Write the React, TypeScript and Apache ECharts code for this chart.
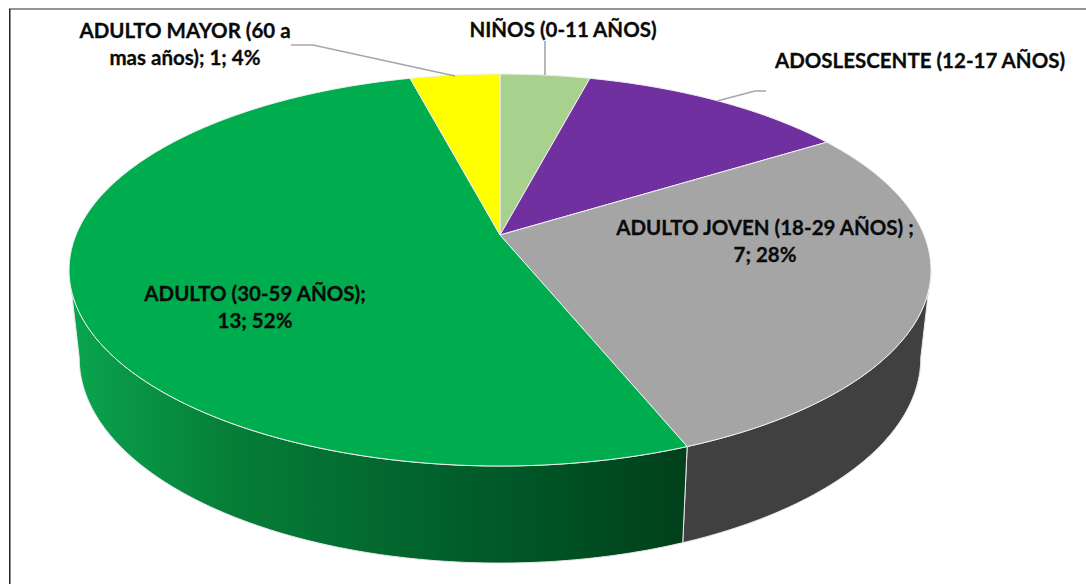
import React, { useEffect, useRef } from "react";
import * as echarts from "echarts";

const categories = [
  "NIÑOS (0-11 AÑOS)",
  "ADOSLESCENTE (12-17 AÑOS)",
  "ADULTO JOVEN (18-29 AÑOS)",
  "ADULTO (30-59 AÑOS)",
  "ADULTO MAYOR (60 a mas años)",
];
const values = [1, 3, 7, 13, 1];
const labelTexts = [
  "NIÑOS (0-11 AÑOS)",
  "ADOSLESCENTE (12-17 AÑOS)",
  "ADULTO JOVEN (18-29 AÑOS) ;\n7; 28%",
  "ADULTO (30-59 AÑOS);\n13; 52%",
  "ADULTO MAYOR (60 a\nmas años); 1; 4%",
];
const topColors = ["#A9D18E", "#7030A0", "#A5A5A5", "#00AD4E", "#FFFF00"];
const labelCenters = [
  [563, 29],
  [920, 60],
  [765, 240.5],
  [255, 306.5],
  [185, 43],
];

// Perspective of the two rims of the cylinder
const K = 0.1786;
const topRim = { cx: 500, cy: 235, bx: 424, ay: 189.75 };
const bottomRim = { cx: 500, cy: 321.4, bx: 414, ay: 198.5 };

// Angles at which the cylinder's side turns away from the viewer
const WALL_FROM = (Math.acos(-K) * 180) / Math.PI;
const WALL_TO = 360 - WALL_FROM;

function project(rim: typeof topRim, deg: number): [number, number] {
  const a = (deg * Math.PI) / 180;
  const x = Math.sin(a);
  const y = Math.cos(a);
  const w = 1 + K * y;
  return [rim.cx + (rim.bx * x) / w, rim.cy - (rim.ay * y) / w];
}

function sample(rim: typeof topRim, from: number, to: number): [number, number][] {
  const n = Math.max(2, Math.ceil(Math.abs(to - from) / 0.5));
  const pts: [number, number][] = [];
  for (let i = 0; i <= n; i++) pts.push(project(rim, from + ((to - from) * i) / n));
  return pts;
}

const total = values.reduce((a, b) => a + b, 0);
const starts = values.map((_, i) => values.slice(0, i).reduce((a, b) => a + b, 0));
const seriesData = values.map((v, i) => ({ name: categories[i], value: [starts[i], v] }));

const wallFill = (i: number) =>
  i === 3
    ? new echarts.graphic.LinearGradient(
        70,
        0,
        690,
        0,
        [
          { offset: 0, color: "#0AA54F" },
          { offset: 0.25, color: "#067F38" },
          { offset: 0.5, color: "#03682F" },
          { offset: 0.75, color: "#005426" },
          { offset: 1, color: "#003F1B" },
        ],
        true
      )
    : "#404040";

const renderWall = (params: any, api: any) => {
  const from = Math.max((api.value(0) / total) * 360, WALL_FROM);
  const to = Math.min(((api.value(0) + api.value(1)) / total) * 360, WALL_TO);
  if (to <= from) return { type: "group", children: [] };
  return {
    type: "polygon",
    shape: { points: [...sample(topRim, from, to), ...sample(bottomRim, to, from)] },
    style: { fill: wallFill(params.dataIndex), stroke: "#E8E8E8", lineWidth: 1 },
  };
};

const renderTop = (params: any, api: any) => {
  const from = (api.value(0) / total) * 360;
  const to = ((api.value(0) + api.value(1)) / total) * 360;
  const points = [[topRim.cx, topRim.cy], ...sample(topRim, from, to)];
  return {
    type: "polygon",
    shape: { points },
    style: { fill: topColors[params.dataIndex], stroke: "#F0F0F0", lineWidth: 1 },
  };
};

const renderLabel = (params: any) => {
  const [x, y] = labelCenters[params.dataIndex];
  return {
    type: "text",
    x,
    y,
    style: {
      text: labelTexts[params.dataIndex],
      fill: "#0A0A0A",
      stroke: "#0A0A0A",
      lineWidth: 0.3,
      font: 'bold 20.5px Lato, "Noto Sans", sans-serif',
      lineHeight: 27,
      align: "center",
      verticalAlign: "middle",
    },
  };
};

const leader = (points: number[][]) => ({
  type: "polyline",
  shape: { points },
  style: { stroke: "#A6A6A6", lineWidth: 1.6, fill: "none" },
  silent: true,
  z: 10,
});

export default function App() {
  const ref = useRef<HTMLDivElement>(null);
  useEffect(() => {
    const chart = echarts.init(ref.current!, undefined, { renderer: "svg" });
    const base = { type: "custom", coordinateSystem: "none", silent: true, data: seriesData, encode: { value: [0, 1] } };
    chart.setOption({
      animation: false,
      backgroundColor: "#FFFFFF",
      series: [
        { ...base, name: "paredes", renderItem: renderWall, z: 1 },
        { ...base, name: "sectores", renderItem: renderTop, z: 2 },
        { ...base, name: "etiquetas", renderItem: renderLabel, z: 3 },
      ],
      graphic: [
        leader([[291, 45], [313, 45], [455, 76]]),
        leader([[545, 41], [545, 75]]),
        leader([[766, 91], [755, 91], [717, 101]]),
        {
          type: "line",
          shape: { x1: 9, y1: 9, x2: 1086, y2: 9 },
          style: { stroke: "#707070", lineWidth: 1.5 },
          silent: true,
        },
        {
          type: "line",
          shape: { x1: 9.75, y1: 9, x2: 9.75, y2: 584 },
          style: { stroke: "#222222", lineWidth: 1.5 },
          silent: true,
        },
      ],
    });
    return () => chart.dispose();
  }, []);
  return (
    <div
      ref={ref}
      style={{ position: "fixed", left: 0, top: 0, width: 1086, height: 584, background: "#fff" }}
    />
  );
}
